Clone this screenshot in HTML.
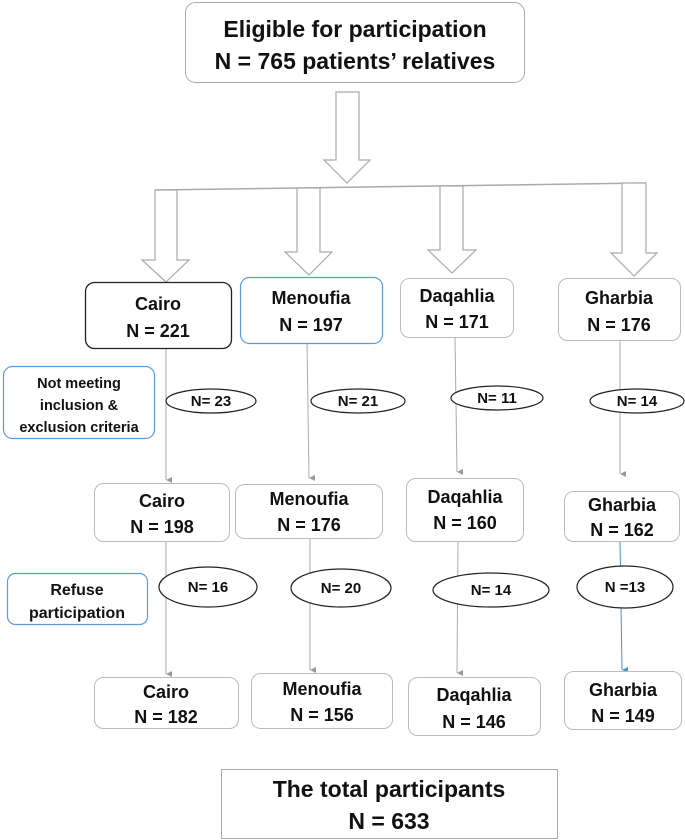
<!DOCTYPE html>
<html><head><meta charset="utf-8"><style>
html,body{margin:0;padding:0;background:#fff;}
svg{display:block;}
text{font-family:"Liberation Sans",sans-serif;font-weight:bold;fill:#111;text-anchor:middle;}
</style></head><body>
<svg width="685" height="840" viewBox="0 0 685 840" xmlns="http://www.w3.org/2000/svg">
<defs>
<marker id="ag" markerWidth="8" markerHeight="8" refX="4" refY="6" orient="auto" markerUnits="userSpaceOnUse"><path d="M1,0 L4,6 L7,0" fill="#999"/></marker>
<marker id="ab" markerWidth="8" markerHeight="8" refX="4" refY="6" orient="auto" markerUnits="userSpaceOnUse"><path d="M1,0 L4,6 L7,0" fill="#4a8fd6"/></marker>
</defs>
<rect x="185.5" y="2.5" width="339" height="80" rx="10" fill="#fff" stroke="#aaa"/>
<text x="355" y="37" font-size="23">Eligible for participation</text>
<text x="355" y="69" font-size="23">N = 765 patients’ relatives</text>
<path d="M336,92 L359,92 L359,160 L370,160 L347,183 L324,160 L336,160 Z" fill="#fff" stroke="#aaa" stroke-width="1.2"/>
<line x1="155" y1="190" x2="646" y2="183" stroke="#aaa" stroke-width="1.5"/>
<path d="M155,190 L177,190 L177,260 L189,260 L166,282 L142,260 L155,260 Z" fill="#fff" stroke="#aaa" stroke-width="1.2"/>
<path d="M297,188 L320,188 L320,252 L332,252 L309,275 L285,252 L297,252 Z" fill="#fff" stroke="#aaa" stroke-width="1.2"/>
<path d="M440,186 L463,186 L463,250 L476,250 L452,273 L428,250 L440,250 Z" fill="#fff" stroke="#aaa" stroke-width="1.2"/>
<path d="M622,183 L646,183 L646,253 L657,253 L634,276 L611,253 L622,253 Z" fill="#fff" stroke="#aaa" stroke-width="1.2"/>
<line x1="166" y1="348" x2="166" y2="480" stroke="#aaa" marker-end="url(#ag)"/>
<line x1="307" y1="343" x2="309" y2="478" stroke="#aaa" marker-end="url(#ag)"/>
<line x1="455" y1="337" x2="457" y2="472" stroke="#aaa" marker-end="url(#ag)"/>
<line x1="620" y1="341" x2="620" y2="474" stroke="#aaa" marker-end="url(#ag)"/>
<line x1="166" y1="541" x2="166" y2="674" stroke="#aaa" marker-end="url(#ag)"/>
<line x1="310" y1="538" x2="310" y2="670" stroke="#aaa" marker-end="url(#ag)"/>
<line x1="458" y1="541" x2="457" y2="673" stroke="#aaa" marker-end="url(#ag)"/>
<line x1="620" y1="541" x2="622" y2="670" stroke="#4a8fd6" marker-end="url(#ab)"/>
<rect x="85.5" y="282.5" width="146" height="66" rx="9" fill="#fff" stroke="#222" stroke-width="1.3"/>
<text x="158" y="310" font-size="18">Cairo</text><text x="158" y="337" font-size="18">N = 221</text>
<rect x="240.5" y="277.5" width="142" height="66" rx="9" fill="#fff" stroke="#5a9be0" stroke-width="1.2"/>
<text x="311" y="304" font-size="18">Menoufia</text><text x="311" y="331" font-size="18">N = 197</text>
<rect x="400.5" y="278.5" width="113" height="59" rx="9" fill="#fff" stroke="#bbb"/>
<text x="457" y="302" font-size="18">Daqahlia</text><text x="457" y="328" font-size="18">N = 171</text>
<rect x="558.5" y="278.5" width="122" height="62" rx="9" fill="#fff" stroke="#bbb"/>
<text x="619" y="304" font-size="18">Gharbia</text><text x="619" y="331" font-size="18">N = 176</text>
<rect x="3.5" y="366.5" width="151" height="72" rx="9" fill="#fff" stroke="#5a9be0" stroke-width="1.2"/>
<text x="79" y="388" font-size="14.5">Not meeting</text><text x="79" y="410" font-size="14.5">inclusion &amp;</text><text x="79" y="432" font-size="14.5">exclusion criteria</text>
<rect x="7.5" y="573.5" width="140" height="51" rx="8" fill="#fff" stroke="#5a9be0" stroke-width="1.2"/>
<text x="77" y="595" font-size="16">Refuse</text><text x="77" y="618" font-size="16">participation</text>
<ellipse cx="211" cy="401" rx="45" ry="12" fill="#fff" stroke="#222" stroke-width="1.2"/><text x="211" y="406" font-size="15">N= 23</text>
<ellipse cx="358" cy="401" rx="47" ry="12" fill="#fff" stroke="#222" stroke-width="1.2"/><text x="358" y="406" font-size="15">N= 21</text>
<ellipse cx="497" cy="398" rx="46" ry="12" fill="#fff" stroke="#222" stroke-width="1.2"/><text x="497" y="403" font-size="15">N= 11</text>
<ellipse cx="637" cy="401" rx="47" ry="12" fill="#fff" stroke="#222" stroke-width="1.2"/><text x="637" y="406" font-size="15">N= 14</text>
<rect x="94.5" y="483.5" width="135" height="58" rx="9" fill="#fff" stroke="#bbb"/>
<text x="162" y="507" font-size="18">Cairo</text><text x="162" y="533" font-size="18">N = 198</text>
<rect x="235.5" y="484.5" width="147" height="54" rx="9" fill="#fff" stroke="#bbb"/>
<text x="309" y="505" font-size="18">Menoufia</text><text x="309" y="531" font-size="18">N = 176</text>
<rect x="406.5" y="478.5" width="117" height="63" rx="9" fill="#fff" stroke="#bbb"/>
<text x="465" y="503" font-size="18">Daqahlia</text><text x="465" y="529" font-size="18">N = 160</text>
<rect x="564.5" y="491.5" width="115" height="50" rx="9" fill="#fff" stroke="#bbb"/>
<text x="622" y="511" font-size="18">Gharbia</text><text x="622" y="536" font-size="18">N = 162</text>
<ellipse cx="208" cy="587" rx="49" ry="20" fill="#fff" stroke="#222" stroke-width="1.2"/><text x="208" y="592" font-size="15">N= 16</text>
<ellipse cx="341" cy="588" rx="50" ry="19" fill="#fff" stroke="#222" stroke-width="1.2"/><text x="341" y="593" font-size="15">N= 20</text>
<ellipse cx="491" cy="590" rx="58" ry="17" fill="#fff" stroke="#222" stroke-width="1.2"/><text x="491" y="595" font-size="15">N= 14</text>
<ellipse cx="625" cy="587" rx="48" ry="21" fill="#fff" stroke="#222" stroke-width="1.2"/><text x="625" y="592" font-size="15">N =13</text>
<rect x="94.5" y="677.5" width="144" height="51" rx="9" fill="#fff" stroke="#bbb"/>
<text x="166" y="698" font-size="18">Cairo</text><text x="166" y="723" font-size="18">N = 182</text>
<rect x="251.5" y="673.5" width="141" height="55" rx="9" fill="#fff" stroke="#bbb"/>
<text x="322" y="695" font-size="18">Menoufia</text><text x="322" y="721" font-size="18">N = 156</text>
<rect x="408.5" y="677.5" width="132" height="58" rx="9" fill="#fff" stroke="#bbb"/>
<text x="474" y="701" font-size="18">Daqahlia</text><text x="474" y="728" font-size="18">N = 146</text>
<rect x="564.5" y="671.5" width="117" height="58" rx="9" fill="#fff" stroke="#bbb"/>
<text x="623" y="696" font-size="18">Gharbia</text><text x="623" y="722" font-size="18">N = 149</text>
<rect x="221.5" y="769.5" width="336" height="69" fill="#fff" stroke="#aaa"/>
<text x="389" y="797" font-size="23">The total participants</text>
<text x="389" y="829" font-size="23">N = 633</text>
</svg>
</body></html>
